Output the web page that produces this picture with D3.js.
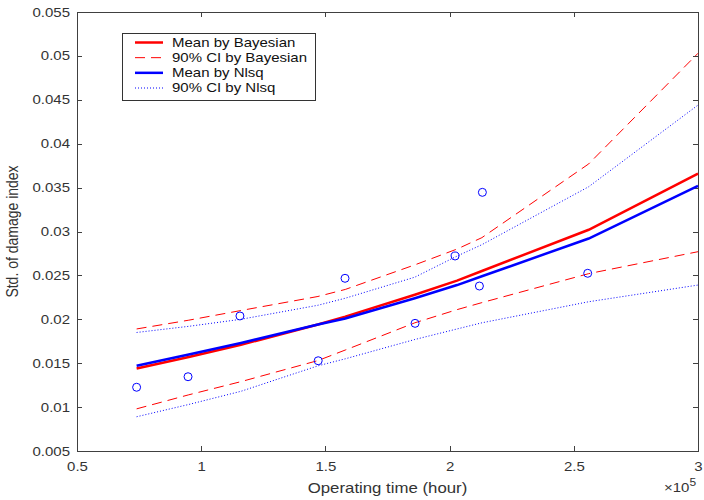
<!DOCTYPE html>
<html>
<head>
<meta charset="utf-8">
<script src="https://cdn.jsdelivr.net/npm/d3@7"></script>
<style>
	body { margin: 0; background: #fff; }
	svg { display: block; font-family: "Liberation Sans", Arial, sans-serif; }
	.axis path, .axis line { stroke: #404040; stroke-width: 1; shape-rendering: crispEdges; }
	.axis text { fill: #333; font-size: 12.5px; }
</style>
</head>
<body>
<script>
/* Data (time in 1e5 hours). */
const obsTime = [0.740, 0.947, 1.156, 1.471, 1.579, 1.861, 2.022, 2.120, 2.132, 2.556];
const obsStd = [0.01226, 0.01346, 0.02038, 0.01528, 0.02467, 0.01954, 0.02721, 0.02379, 0.03446, 0.02524];

const curveTime = [0.74, 0.95, 1.16, 1.47, 1.58, 1.86, 2.03, 2.13, 2.56, 3.0];
const meanBayes = [0.0144, 0.0157, 0.0171, 0.0194, 0.0203, 0.0228, 0.0244, 0.0255, 0.0302, 0.0366];
const upperBayes = [0.0189, 0.0199, 0.0210, 0.0226, 0.0234, 0.0262, 0.0280, 0.0293, 0.0377, 0.0503];
const lowerBayes = [0.0098, 0.0114, 0.0129, 0.0153, 0.0165, 0.0196, 0.0211, 0.0219, 0.0252, 0.0277];
const meanNlsq = [0.0147, 0.0160, 0.0173, 0.0194, 0.0201, 0.0224, 0.0239, 0.0249, 0.0292, 0.0352];
const upperNlsq = [0.0185, 0.0192, 0.0200, 0.0216, 0.0224, 0.0248, 0.0272, 0.0285, 0.0351, 0.0444];
const lowerNlsq = [0.0089, 0.0103, 0.0118, 0.0147, 0.0155, 0.0177, 0.0189, 0.0196, 0.0220, 0.0239];

const xTicks = [0.5, 1, 1.5, 2, 2.5, 3];
const yTicks = [0.005, 0.01, 0.015, 0.02, 0.025, 0.03, 0.035, 0.04, 0.045, 0.05, 0.055];
const legendLabels = ['Mean by Bayesian', '90% CI by Bayesian', 'Mean by Nlsq', '90% CI by Nlsq'];

/* The original figure is stretched horizontally, so is its text. */
const STRETCH = 'scale(1.2,1)';

/**
 * Builds the line styles (legend order).
 */
function getSeries() {
	return [
		{ color: '#ff0000', width: 2.5, dash: null, values: [meanBayes] },
		{ color: '#ff0000', width: 1, dash: '10,6', values: [upperBayes, lowerBayes] },
		{ color: '#0000ff', width: 2.5, dash: null, values: [meanNlsq] },
		{ color: '#0000ff', width: 1, dash: '1,2', values: [upperNlsq, lowerNlsq] }
	];
}

/**
 * Draws the chart.
 */
function main() {
	const width = 704;
	const height = 500;
	const plot = { left: 77, right: 698, top: 12, bottom: 451 };

	let svg = d3.select('body').append('svg')
		.attr('width', width)
		.attr('height', height);

	let xScale = d3.scaleLinear().domain([0.5, 3]).range([plot.left, plot.right]);
	let yScale = d3.scaleLinear().domain([0.005, 0.055]).range([plot.bottom, plot.top]);

	/* Axes, box style with ticks on all four sides. */
	svg.append('g')
		.attr('class', 'axis')
		.attr('transform', 'translate(0,' + plot.bottom + ')')
		.call(d3.axisBottom(xScale).tickValues(xTicks).tickSizeInner(-5).tickSizeOuter(0).tickPadding(11)
			.tickFormat(function(d) { return String(d); }))
		.selectAll('text')
			.attr('transform', STRETCH);

	svg.append('g')
		.attr('class', 'axis')
		.attr('transform', 'translate(0,' + plot.top + ')')
		.call(d3.axisTop(xScale).tickValues(xTicks).tickSizeInner(-5).tickSizeOuter(0).tickFormat(''));

	svg.append('g')
		.attr('class', 'axis')
		.attr('transform', 'translate(' + plot.left + ',0)')
		.call(d3.axisLeft(yScale).tickValues(yTicks).tickSizeInner(-5).tickSizeOuter(0)
			.tickFormat(function(d) { return String(+d.toFixed(3)); }))
		.selectAll('text')
			.attr('x', -7 / 1.2)
			.attr('transform', STRETCH);

	svg.append('g')
		.attr('class', 'axis')
		.attr('transform', 'translate(' + plot.right + ',0)')
		.call(d3.axisRight(yScale).tickValues(yTicks).tickSizeInner(-5).tickSizeOuter(0).tickFormat(''));

	/* Axis labels. */
	svg.append('text')
		.attr('transform', 'translate(' + (plot.left + plot.right) / 2 + ',493) ' + STRETCH)
		.attr('text-anchor', 'middle')
		.attr('fill', '#333')
		.style('font-size', '14px')
		.text('Operating time (hour)');

	svg.append('text')
		.attr('transform', 'translate(18,' + (plot.top + plot.bottom) / 2 + ') ' + STRETCH + ' rotate(-90)')
		.attr('text-anchor', 'middle')
		.attr('fill', '#333')
		.style('font-size', '14px')
		.text('Std. of damage index');

	let exponent = svg.append('text')
		.attr('transform', 'translate(664,492) ' + STRETCH)
		.attr('fill', '#333')
		.style('font-size', '12.5px');
	exponent.append('tspan').text('\u00d710');
	exponent.append('tspan').attr('dy', -6).style('font-size', '10px').text('5');

	/* Curves. */
	let line = d3.line()
		.x(function(d) { return xScale(d[0]); })
		.y(function(d) { return yScale(d[1]); });

	let series = getSeries();
	for (let s of series) {
		for (let values of s.values) {
			svg.append('path')
				.datum(d3.zip(curveTime, values))
				.attr('d', line)
				.attr('fill', 'none')
				.attr('stroke', s.color)
				.attr('stroke-width', s.width)
				.attr('stroke-dasharray', s.dash);
		}
	}

	/* Observations. */
	svg.selectAll('.obs')
			.data(d3.zip(obsTime, obsStd))
		.enter().append('circle')
			.attr('class', 'obs')
			.attr('cx', function(d) { return xScale(d[0]); })
			.attr('cy', function(d) { return yScale(d[1]); })
			.attr('r', 4)
			.attr('fill', 'none')
			.attr('stroke', '#0000ff')
			.attr('stroke-width', 1);

	/* Legend. */
	let legend = svg.append('g').attr('class', 'legend');
	legend.append('rect')
		.attr('x', 122.5)
		.attr('y', 33.5)
		.attr('width', 193)
		.attr('height', 67)
		.attr('fill', '#fff')
		.attr('stroke', '#333')
		.attr('stroke-width', 1);

	let rowY = d3.scalePoint().domain(d3.range(legendLabels.length)).range([42.5, 88]);
	let rows = legend.selectAll('.row')
			.data(legendLabels)
		.enter().append('g')
			.attr('class', 'row')
			.attr('transform', function(_, i) { return 'translate(0,' + rowY(i) + ')'; });
	rows.append('line')
		.attr('x1', 135)
		.attr('x2', 163)
		.attr('stroke', function(_, i) { return series[i].color; })
		.attr('stroke-width', function(_, i) { return series[i].width; })
		.attr('stroke-dasharray', function(_, i) { return series[i].dash; });
	rows.append('text')
		.attr('transform', 'translate(172,0) ' + STRETCH)
		.attr('dy', '0.35em')
		.attr('fill', '#111')
		.style('font-size', '12.5px')
		.text(function(d) { return d; });
}

window.onload = function() {
	main();
};
</script>
</body>
</html>
